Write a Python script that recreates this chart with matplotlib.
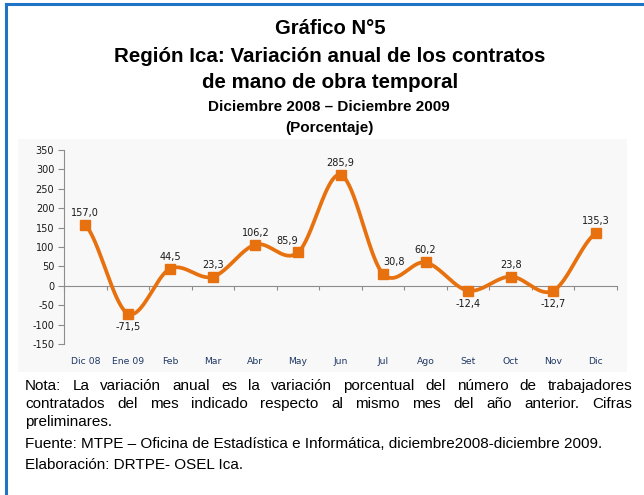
import numpy as np
import matplotlib
matplotlib.use("Agg")
import matplotlib.pyplot as plt
from matplotlib.patches import Rectangle
from matplotlib.lines import Line2D

months = ["Dic 08", "Ene 09", "Feb", "Mar", "Abr", "May", "Jun", "Jul", "Ago", "Set", "Oct", "Nov", "Dic"]
values = [157.0, -71.5, 44.5, 23.3, 106.2, 85.9, 285.9, 30.8, 60.2, -12.4, 23.8, -12.7, 135.3]
yticks = [-150, -100, -50, 0, 50, 100, 150, 200, 250, 300, 350]

title_lines = ["Gráfico N°5", "Región Ica: Variación anual de los contratos", "de mano de obra temporal"]
sub_lines = ["Diciembre 2008 – Diciembre 2009", "(Porcentaje)"]
note_just = [
    "Nota: La variación anual es la variación porcentual del número de trabajadores",
    "contratados del mes indicado respecto al mismo mes del año anterior. Cifras",
]
note_plain = [
    "preliminares.",
    "Fuente: MTPE – Oficina de Estadística e Informática, diciembre2008-diciembre 2009.",
    "Elaboración: DRTPE- OSEL Ica.",
]

W, H = 644, 495
fig = plt.figure(figsize=(W / 100, H / 100), dpi=100)

def fx(px):
    return px / W

def fy(py):
    return 1 - py / H

# blue frame
fig.add_artist(Line2D([fx(6), fx(6)], [fy(4), 0], color="#1F74C8", lw=2.2))
fig.add_artist(Line2D([fx(6), 1], [fy(4), fy(4)], color="#1F74C8", lw=2.2))

# chart area background
fig.add_artist(Rectangle((fx(18), fy(372)), fx(627) - fx(18), fy(139) - fy(372),
                         facecolor="#f8f8f8", edgecolor="none", zorder=0))

# titles
font = "Liberation Sans"
title_sizes = [14.6, 14.8, 14.8]
for t, y, fs in zip(title_lines, [28, 56, 83], title_sizes):
    fig.text(fx(330), fy(y), t, ha="center", va="center", fontsize=fs,
             fontweight="bold", family=font)
for t, y in zip(sub_lines, [107, 128]):
    fig.text(fx(329), fy(y), t, ha="center", va="center", fontsize=11,
             fontweight="bold", family=font)

# axes
ymin, ymax = -150, 350
ax = fig.add_axes([fx(64), fy(344), fx(617) - fx(64), fy(150) - fy(344)])
ax.set_facecolor("none")
x = np.arange(len(values))
ax.set_xlim(-0.5, len(values) - 0.5)
ax.set_ylim(ymin, ymax)

# smoothed line (Catmull-Rom / Excel-like)
px = np.concatenate([[2 * x[0] - x[1]], x, [2 * x[-1] - x[-2]]]).astype(float)
py = np.concatenate([[values[0]], values, [values[-1]]]).astype(float)
sx, sy = [], []
tt = np.linspace(0, 1, 40)
for i in range(1, len(px) - 2):
    p0, p1, p2, p3 = (np.array([px[i - 1], py[i - 1]]), np.array([px[i], py[i]]),
                      np.array([px[i + 1], py[i + 1]]), np.array([px[i + 2], py[i + 2]]))
    c1 = p1 + (p2 - p0) / 6
    c2 = p2 - (p3 - p1) / 6
    seg = ((1 - tt) ** 3)[:, None] * p1 + (3 * (1 - tt) ** 2 * tt)[:, None] * c1 \
        + (3 * (1 - tt) * tt ** 2)[:, None] * c2 + (tt ** 3)[:, None] * p2
    sx.extend(seg[:, 0]); sy.extend(seg[:, 1])
orange = "#E8710F"
ax.plot(sx, sy, color=orange, lw=2.7, solid_capstyle="round", zorder=3)
ax.plot(x, values, ls="none", marker="s", ms=6.5, color=orange, zorder=4)

# data labels
lab_font = "DejaVu Sans"
shift = {"Jul": 0.25, "May": -0.25}
for xi, v in zip(x, values):
    s = f"{v:.1f}".replace(".", ",")
    dx = shift.get(months[xi], 0)
    if v >= 0:
        ax.annotate(s, (xi + dx, v), xytext=(0, 5), textcoords="offset points",
                    ha="center", va="bottom", fontsize=7, family=lab_font, color="#1a1a1a")
    else:
        ax.annotate(s, (xi, v), xytext=(0, -6), textcoords="offset points",
                    ha="center", va="top", fontsize=7, family=lab_font, color="#1a1a1a")

# spines
for s in ["top", "right"]:
    ax.spines[s].set_visible(False)
ax.spines["left"].set_color("#8c8c8c")
ax.spines["bottom"].set_position(("data", 0))
ax.spines["bottom"].set_color("#8c8c8c")

ax.set_yticks(yticks)
ax.set_yticklabels([str(v) for v in yticks], fontsize=7, family=lab_font, color="#1a1a1a")
ax.tick_params(axis="y", length=4, color="#8c8c8c", pad=3)

ax.set_xticks(np.arange(-0.5, len(values), 1.0))
ax.set_xticklabels([])
ax.tick_params(axis="x", length=3, color="#8c8c8c", direction="out")

sec = ax.secondary_xaxis(0.0)
sec.set_xticks(x)
sec.set_xticklabels(months, fontsize=6.7, family=lab_font, color="#1F3864")
sec.tick_params(length=0, pad=9)
sec.spines["bottom"].set_visible(False)

# notes
fig.canvas.draw()
renderer = fig.canvas.get_renderer()
left_px, right_px = 25, 632
note_fs = 11
for line, y in zip(note_just, [386, 404]):
    words = line.split(" ")
    arts = [fig.text(0, fy(y), w, fontsize=note_fs, family=font, va="center", ha="left") for w in words]
    widths = [a.get_window_extent(renderer).width for a in arts]
    gap = (right_px - left_px - sum(widths)) / (len(words) - 1)
    pos = left_px
    for a, w in zip(arts, widths):
        a.set_x(fx(pos))
        pos += w + gap
for line, y in zip(note_plain, [422, 444, 465]):
    fig.text(fx(left_px), fy(y), line, fontsize=note_fs, family=font, va="center", ha="left")

fig.savefig("out.png", dpi=100)
